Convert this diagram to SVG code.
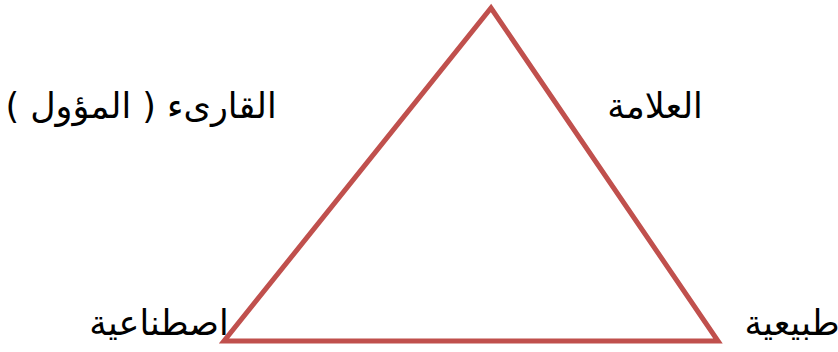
<svg xmlns="http://www.w3.org/2000/svg" width="838" height="352" viewBox="0 0 838 352">
<style>
.lbl{font-family:"DejaVu Sans","Noto Sans",sans-serif;font-size:35px;fill:#000;text-anchor:middle;direction:rtl}
.edge{fill:none;stroke:#c0504d;stroke-width:5;stroke-linejoin:miter}
</style>
<rect width="838" height="352" fill="#fff"/>
<g id="node-reader"><text class="lbl" x="141" y="118">القارىء ( المؤول )</text></g>
<g id="node-sign"><text class="lbl" x="655" y="118">العلامة</text></g>
<g id="node-artificial"><text class="lbl" x="159" y="335">اصطناعية</text></g>
<g id="node-natural"><text class="lbl" x="792" y="335">طبيعية</text></g>
<g id="connectors">
<polygon class="edge" points="491,8 718,341 224,341"/>
</g>
</svg>
